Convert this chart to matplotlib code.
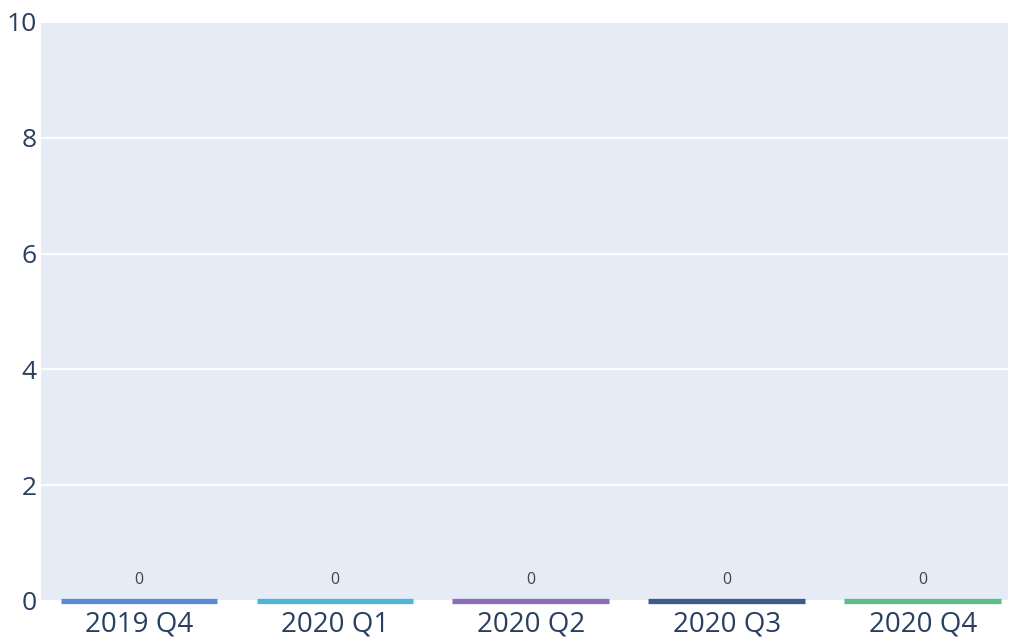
import matplotlib.pyplot as plt

quarters = ["2019 Q4", "2020 Q1", "2020 Q2", "2020 Q3", "2020 Q4"]
counts = [0, 0, 0, 0, 0]
colors = ["#5a8bd6", "#4db6d6", "#8a6dbd", "#3f5b8c", "#5bbd88"]

plt.rcParams['font.family'] = ['Open Sans', 'DejaVu Sans']

W, H = 1009, 641
fig = plt.figure(figsize=(W / 100, H / 100), dpi=100)
ax = fig.add_axes([41 / W, (H - 601) / H, (1008 - 41) / W, (601 - 22) / H])
ax.set_facecolor("#e5ecf6")

x = list(range(len(quarters)))
# zero height bars: only the thick outline shows
ax.bar(x, counts, width=0.8, color=colors, edgecolor=colors, linewidth=3.8,
       clip_on=False, zorder=3)
for xi, v in zip(x, counts):
    ax.text(xi, v + 0.22, str(v), ha="center", va="bottom", fontsize=11.5,
            color="#444444")

ax.set_xlim(-0.5, 4.435)
ax.set_ylim(0, 10)
ax.set_yticks(range(0, 11, 2))
ax.set_xticks(x)
ax.set_xticklabels(quarters)
ax.grid(axis="y", color="white", linewidth=1.3)
ax.set_axisbelow(True)
for s in ax.spines.values():
    s.set_visible(False)
ax.tick_params(axis="y", length=0, labelsize=19, colors="#2a3f5f", pad=3)
ax.tick_params(axis="x", length=0, labelsize=20, colors="#2a3f5f", pad=7)

plt.savefig("out.png", dpi=100)
